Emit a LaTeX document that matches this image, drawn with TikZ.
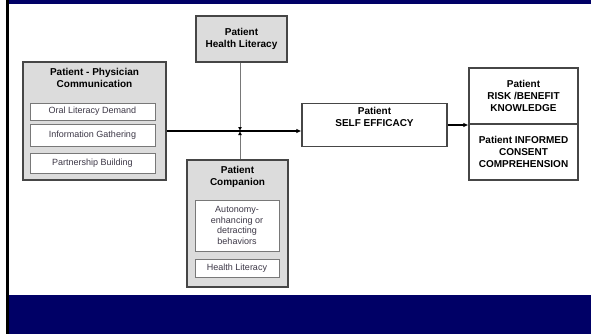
\documentclass[tikz,border=0pt]{standalone}
\usepackage{fontspec}
\setmainfont{Liberation Sans}
\usepackage{tikz}
\usetikzlibrary{calc, arrows.meta}
\definecolor{navyband}{RGB}{0,0,102}
\definecolor{boxgray}{RGB}{220,220,220}
\definecolor{edgegray}{RGB}{70,70,70}
\definecolor{innergray}{RGB}{120,120,120}
\definecolor{textgray}{RGB}{60,55,70}
\tikzstyle{outerbox} = [rectangle, draw=edgegray, line width=1.2pt, fill=boxgray, inner sep=0pt]
\tikzstyle{innerbox} = [rectangle, draw=innergray, line width=0.9pt, fill=white, inner sep=0pt, text=textgray, align=center, font=\fontsize{9}{10.7}\selectfont]
\tikzstyle{whitebox} = [rectangle, draw=edgegray, line width=1.2pt, fill=white, inner sep=0pt, align=center, font=\fontsize{10}{12.2}\selectfont\bfseries]
\tikzstyle{titletext} = [align=center, font=\fontsize{10}{12.2}\selectfont\bfseries]
\tikzstyle{mainflow} = [line width=1.8pt, -{Latex[length=5pt,width=4.5pt]}]
\tikzstyle{sideflow} = [draw=innergray, line width=0.8pt, -{Latex[length=4pt,width=4pt,black]}]

\begin{document}
\begin{tikzpicture}[x=1pt, y=-1pt]

        \useasboundingbox (0,0) rectangle (591,334);

        % frame
        \fill[white] (0,0) rectangle (591,334);
        \fill[navyband] (6,0) rectangle (591,4);
        \fill[navyband] (9,295) rectangle (591,334);
        \fill[black] (6,0) rectangle (9,334);

        \node (hl) [outerbox, minimum width=91pt, minimum height=46pt, titletext] at (241.5,39) {Patient\\Health Literacy};

        \node (ppc) [outerbox, minimum width=143pt, minimum height=118pt] at (94.5,121) {};
        \node (ppctitle) [titletext] at (94.5,78) {Patient - Physician\\Communication};
        \node (oral) [innerbox, minimum width=125pt, minimum height=17pt] at (92.5,111.5) {Oral Literacy Demand};
        \node (info) [innerbox, minimum width=125pt, minimum height=22pt] at (92.5,135) {Information Gathering};
        \node (partner) [innerbox, minimum width=125pt, minimum height=20pt] at (92.5,163) {Partnership Building};

        \node (comp) [outerbox, minimum width=101pt, minimum height=127pt] at (237.5,223.5) {};
        \node (comptitle) [titletext] at (237.5,177) {Patient\\Companion};
        \node (auto) [innerbox, minimum width=84pt, minimum height=51pt] at (237,225.5) {Autonomy-\\enhancing or\\detracting\\behaviors};
        \node (chl) [innerbox, minimum width=84pt, minimum height=18pt] at (237,268) {Health Literacy};

        \node (self) [whitebox, minimum width=145pt, minimum height=43pt] at (374.5,125) {Patient\\SELF EFFICACY\\[4pt]};

        \node (risk) [whitebox, minimum width=109pt, minimum height=56pt] at (523.5,96) {Patient\\RISK /BENEFIT\\KNOWLEDGE};
        \node (consent) [whitebox, minimum width=109pt, minimum height=56pt] at (523.5,152) {Patient INFORMED\\CONSENT\\COMPREHENSION};

        \coordinate (jn) at (240,131);

        \draw[sideflow] (hl.south -| jn) -- (jn);
        \draw[sideflow] (comp.north -| jn) -- (jn);

        \draw[mainflow] (ppc.east |- jn) -- (self.west |- jn);
        \draw[mainflow] (self.east) -- (risk.west |- self.east);

    \end{tikzpicture}
\end{document}
